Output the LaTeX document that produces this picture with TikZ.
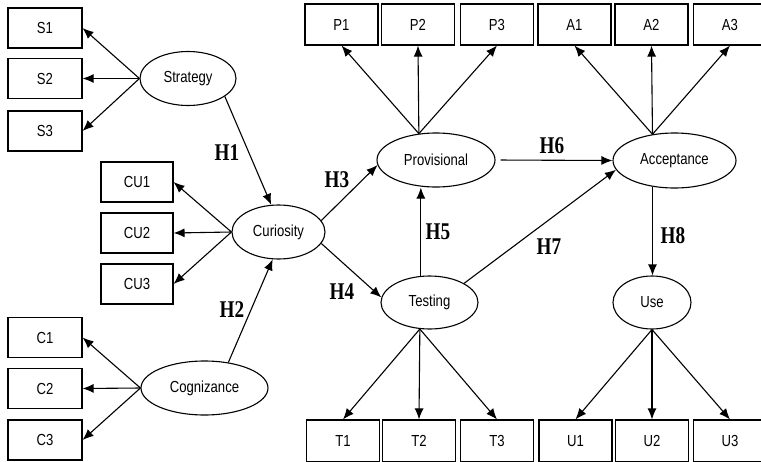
\documentclass[tikz,border=0pt]{standalone}
\usepackage{fontspec}
\usetikzlibrary{arrows.meta,shapes.geometric}
\newfontfamily\boxf[FakeStretch=0.82]{Liberation Sans}
\newfontfamily\hyf[FakeStretch=0.8]{Liberation Serif}
\begin{document}
\begin{tikzpicture}[x=1pt,y=-1pt,
  every path/.style={line width=1.1pt},
  ind/.style={draw, rectangle, minimum width=74pt, minimum height=40pt, inner sep=0pt, font=\boxf\fontsize{16}{17}\selectfont},
  lat/.style={draw, ellipse, minimum height=54pt, inner sep=0pt, font=\boxf\fontsize{16}{17}\selectfont},
  hyp/.style={font=\hyf\bfseries\fontsize{24}{25}\selectfont, inner sep=0pt},
  arr/.style={-{Latex[length=11pt,width=9pt]}}
]
\useasboundingbox (0,0) rectangle (761,461);
% indicators
\node[ind] (S1) at (45,28) {S1};
\node[ind] (S2) at (45,78.5) {S2};
\node[ind] (S3) at (45,131) {S3};
\node[ind, minimum width=72pt] (CU1) at (137,182) {CU1};
\node[ind, minimum width=72pt] (CU2) at (137,233) {CU2};
\node[ind, minimum width=72pt] (CU3) at (137,284) {CU3};
\node[ind] (C1) at (45,337.5) {C1};
\node[ind] (C2) at (45,388.5) {C2};
\node[ind] (C3) at (45,440) {C3};
\node[ind, minimum width=73pt, minimum height=41pt] (P1) at (341.5,24.5) {P1};
\node[ind, minimum width=73pt, minimum height=41pt] (P2) at (418,24.5) {P2};
\node[ind, minimum width=73pt, minimum height=41pt] (P3) at (497,24.5) {P3};
\node[ind, minimum width=73pt, minimum height=41pt] (A1) at (574.5,24.5) {A1};
\node[ind, minimum width=73pt, minimum height=41pt] (A2) at (651.5,24.5) {A2};
\node[ind, minimum width=73pt, minimum height=41pt] (A3) at (730,24.5) {A3};
\node[ind, minimum width=73pt, minimum height=42pt] (T1) at (343,441) {T1};
\node[ind, minimum width=73pt, minimum height=42pt] (T2) at (419,441) {T2};
\node[ind, minimum width=73pt, minimum height=42pt] (T3) at (497,441) {T3};
\node[ind, minimum width=73pt, minimum height=42pt] (U1) at (575.5,441) {U1};
\node[ind, minimum width=73pt, minimum height=42pt] (U2) at (652,441) {U2};
\node[ind, minimum width=73pt, minimum height=42pt] (U3) at (730,441) {U3};
% latent variables
\node[lat, minimum width=96pt] (Str) at (188,78.5) {Strategy};
\node[lat, minimum width=93pt] (Cur) at (278.5,232) {Curiosity};
\node[lat, minimum width=127pt] (Cog) at (204.5,388) {Cognizance};
\node[lat, minimum width=118pt] (Pro) at (436,160) {Provisional};
\node[lat, minimum width=123pt, minimum height=55pt] (Acc) at (674.5,160.5) {Acceptance};
\node[lat, minimum width=97pt, minimum height=53pt] (Tes) at (429.5,302.5) {Testing};
\node[lat, minimum width=78pt, minimum height=53pt] (Use) at (652,302.5) {Use};
% measurement arrows
\foreach \b in {S1,S2,S3} \draw[arr] (Str.west) -- (\b.east);
\foreach \b in {CU1,CU2,CU3} \draw[arr] (Cur.west) -- (\b.east);
\foreach \b in {C1,C2,C3} \draw[arr] (Cog.west) -- (\b.east);
\foreach \b in {P1,P2,P3} \draw[arr] (Pro.123) -- (\b.south);
\foreach \b in {A1,A2,A3} \draw[arr] (Acc.130) -- (\b.south);
\foreach \b in {T1,T2,T3} \draw[arr] (Tes.250) -- (\b.north);
\foreach \b in {U1,U2,U3} \draw[arr] (Use.south) -- (\b.north);
% structural paths
\draw[arr] (Str.-26) -- (Cur.105);
\draw[arr] (Cog.47) -- (Cur.-102);
\draw[arr] (Cur.15) -- (Pro.185);
\draw[arr] (Cur.-15) -- (Tes.174);
\draw[arr] (Tes.108) -- (Tes.108 |- Pro.south);
\draw[arr, shorten <=5pt] (Pro.east) -- (Acc.west);
\draw[arr] (Tes.29) -- (Acc.189);
\draw[arr] (Acc.230) -- (Acc.230 |- Use.north);
% hypothesis labels
\node[hyp] (H1) at (227,153) {H1};
\node[hyp] (H2) at (232,310) {H2};
\node[hyp] (H3) at (337,180) {H3};
\node[hyp] (H4) at (342,292) {H4};
\node[hyp] (H5) at (438,232) {H5};
\node[hyp] (H6) at (552,146) {H6};
\node[hyp] (H7) at (549,247) {H7};
\node[hyp] (H8) at (673,236) {H8};
\end{tikzpicture}
\end{document}
